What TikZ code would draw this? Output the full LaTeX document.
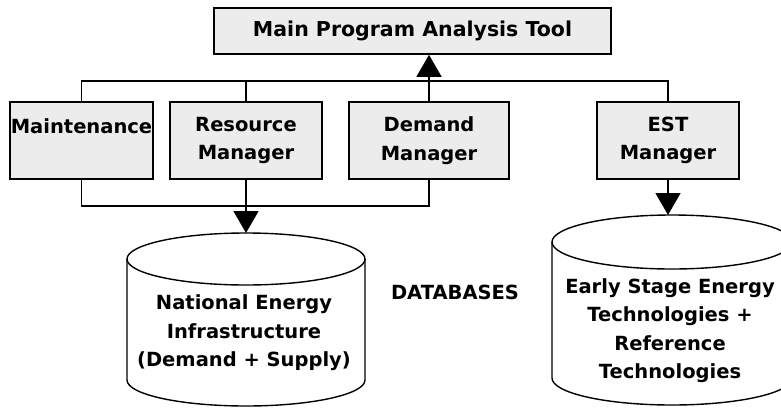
\documentclass[tikz,border=0pt]{standalone}
\usepackage{fontspec}
\setmainfont{DejaVu Sans}
\usetikzlibrary{arrows.meta}
\newcommand\lblfont{\bfseries\fontsize{19.5}{28.5}\selectfont}
\begin{document}
\begin{tikzpicture}[x=1pt,y=-1pt,
  box/.style={draw=black, fill=gray!15, line width=1.6pt, inner sep=0pt, align=center, font=\lblfont},
  txt/.style={inner sep=0pt, align=center, font=\lblfont},
  conn/.style={line width=1.4pt},
  arr/.style={conn, -{Triangle[width=25pt,length=22pt]}},
  cyl/.style={draw=black, line width=1.4pt}]
\useasboundingbox (0,0) rectangle (781,407);
\clip (0,0) rectangle (781,407);
% boxes
\node[box, minimum width=397pt, minimum height=46pt, font=\bfseries\fontsize{20.5}{28.5}\selectfont] (main) at (412.5,31) {Main Program Analysis Tool};
\node[box, minimum width=143pt, minimum height=77pt] (maint) at (81.5,140.5) {Maintenance\\~};
\node[box, minimum width=152pt, minimum height=77pt] (res) at (246,140.5) {Resource\\Manager};
\node[box, minimum width=160pt, minimum height=77pt] (dem) at (429,140.5) {Demand\\Manager};
\node[box, minimum width=142pt, minimum height=77pt] (est) at (668,140.5) {EST\\Manager};
% bus coordinates
\coordinate (topbus) at (0,81);
\coordinate (botbus) at (0,206);
\coordinate (cylLtop) at (246,233);
\coordinate (cylRtop) at (672,215);
% left cylinder
\draw[cyl] (127,259) -- (127,380) arc[start angle=180, end angle=360, x radius=119pt, y radius=26pt] -- (365,259);
\draw[cyl] (246,259) ellipse [x radius=119pt, y radius=26pt];
% right cylinder
\draw[cyl] (552,242) -- (552,378) arc[start angle=180, end angle=360, x radius=120pt, y radius=27pt] -- (792,242);
\draw[cyl] (672,242) ellipse [x radius=120pt, y radius=27pt];
% texts
\node[txt] (natl) at (244,333) {National Energy\\Infrastructure\\(Demand + Supply)};
\node[txt] (estdb) at (670,330.5) {Early Stage Energy\\Technologies +\\Reference\\Technologies};
\node[txt] (dbs) at (455,292) {DATABASES};
% connectors
\draw[conn] (maint.north) -- (maint.north |- topbus) -- (est.north |- topbus) -- (est.north);
\draw[conn] (res.north) -- (res.north |- topbus);
\draw[arr] (dem.north) -- (dem.north |- main.south);
\draw[conn] (maint.south) -- (maint.south |- botbus) -- (dem.south |- botbus) -- (dem.south);
\draw[arr] (res.south) -- (res.south |- cylLtop);
\draw[arr] (est.south) -- (est.south |- cylRtop);
\end{tikzpicture}
\end{document}
